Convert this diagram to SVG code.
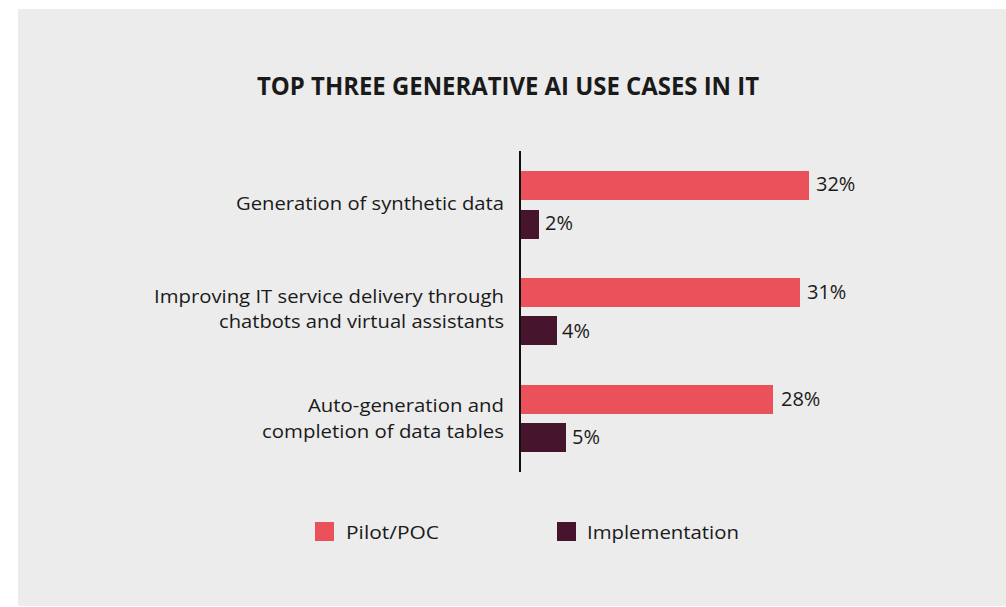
<svg xmlns="http://www.w3.org/2000/svg" width="1006" height="607" viewBox="0 0 1006 607">
<style>
.t{font-family:"Open Sans","Liberation Sans",sans-serif;fill:#1a1a1a}
.lbl{font-size:19px;text-anchor:end}
.val{font-size:20px}
.leg{font-size:19px}
.pilot{fill:#EB515A}
.impl{fill:#47142D}
</style>
<rect width="1006" height="607" fill="#ffffff"/>
<rect x="18" y="9" width="988" height="597" fill="#ECECEC"/>
<text class="t" x="257" y="95" font-size="25" font-weight="bold" fill="#000" textLength="502" lengthAdjust="spacingAndGlyphs">TOP THREE GENERATIVE AI USE CASES IN IT</text>
<g id="cat1">
<text class="t lbl" x="504" y="210" textLength="268" lengthAdjust="spacingAndGlyphs">Generation of synthetic data</text>
<rect class="pilot" x="520" y="171" width="289" height="29"/>
<text class="t val" x="816" y="191">32%</text>
<rect class="impl" x="520" y="210" width="19" height="29"/>
<text class="t val" x="545" y="230">2%</text>
</g>
<g id="cat2">
<text class="t lbl" x="504" y="303" textLength="350" lengthAdjust="spacingAndGlyphs">Improving IT service delivery through</text>
<text class="t lbl" x="504" y="328" textLength="285" lengthAdjust="spacingAndGlyphs">chatbots and virtual assistants</text>
<rect class="pilot" x="520" y="278" width="280" height="29"/>
<text class="t val" x="807" y="299">31%</text>
<rect class="impl" x="520" y="316" width="37" height="29"/>
<text class="t val" x="562" y="338">4%</text>
</g>
<g id="cat3">
<text class="t lbl" x="504" y="412" textLength="196" lengthAdjust="spacingAndGlyphs">Auto-generation and</text>
<text class="t lbl" x="504" y="438" textLength="242" lengthAdjust="spacingAndGlyphs">completion of data tables</text>
<rect class="pilot" x="520" y="385" width="253" height="29"/>
<text class="t val" x="781" y="406">28%</text>
<rect class="impl" x="520" y="423" width="46" height="29"/>
<text class="t val" x="572" y="444">5%</text>
</g>
<g id="axis">
<rect x="519" y="151" width="2" height="321" fill="#111"/>
</g>
<g id="legend">
<rect class="pilot" x="315" y="522" width="19" height="19"/>
<text class="t leg" x="346" y="539" textLength="93" lengthAdjust="spacingAndGlyphs">Pilot/POC</text>
<rect class="impl" x="557" y="522" width="19" height="19"/>
<text class="t leg" x="587" y="539" textLength="152" lengthAdjust="spacingAndGlyphs">Implementation</text>
</g>
</svg>
